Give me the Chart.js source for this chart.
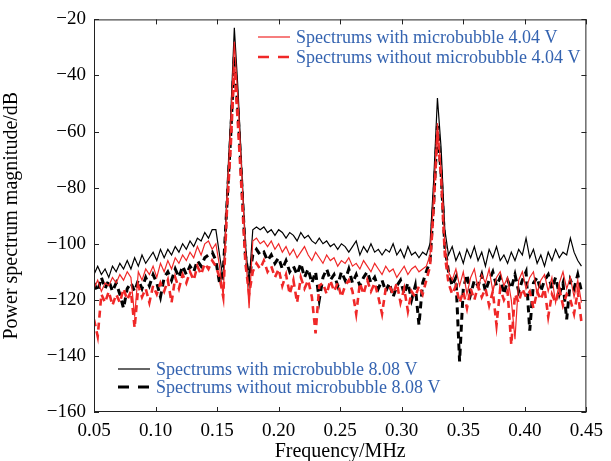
<!DOCTYPE html>
<html>
<head>
<meta charset="utf-8">
<script src="https://cdn.jsdelivr.net/npm/chart.js@4/dist/chart.umd.min.js"></script>
<style>
  html, body { margin: 0; padding: 0; background: #fff; }
  #wrap { width: 611px; height: 461px; }
</style>
</head>
<body>
<div id="wrap"><canvas id="spectrumChart" width="611" height="461"></canvas></div>
<script>
// frequency grid (MHz)
const freq = [
  0.050, 0.053, 0.056, 0.059, 0.062, 0.065, 0.068, 0.071, 0.074, 0.077,
  0.080, 0.083, 0.086, 0.089, 0.092, 0.095, 0.098, 0.101, 0.104, 0.107,
  0.110, 0.113, 0.116, 0.119, 0.122, 0.125, 0.128, 0.131, 0.134, 0.137,
  0.140, 0.143, 0.146, 0.149, 0.152, 0.155, 0.158, 0.161, 0.164, 0.167,
  0.170, 0.173, 0.176, 0.179, 0.182, 0.185, 0.188, 0.191, 0.194, 0.197,
  0.200, 0.203, 0.206, 0.209, 0.212, 0.215, 0.218, 0.221, 0.224, 0.227,
  0.230, 0.233, 0.236, 0.239, 0.242, 0.245, 0.248, 0.251, 0.254, 0.257,
  0.260, 0.263, 0.266, 0.269, 0.272, 0.275, 0.278, 0.281, 0.284, 0.287,
  0.290, 0.293, 0.296, 0.299, 0.302, 0.305, 0.308, 0.311, 0.314, 0.317,
  0.320, 0.323, 0.326, 0.329, 0.332, 0.335, 0.338, 0.341, 0.344, 0.347,
  0.350, 0.353, 0.356, 0.359, 0.362, 0.365, 0.368, 0.371, 0.374, 0.377,
  0.380, 0.383, 0.386, 0.389, 0.392, 0.395, 0.398, 0.401, 0.404, 0.407,
  0.410, 0.413, 0.416, 0.419, 0.422, 0.425, 0.428, 0.431, 0.434, 0.437,
  0.440, 0.443, 0.446
];

// with microbubble, 8.08 V (black solid)
const withMb808 = [
  -111, -108, -111, -109, -112, -108, -110, -107, -109, -106,
  -109, -105, -108, -104, -107, -105, -103, -106, -102, -105,
  -102, -104, -101, -103, -100, -102, -99, -101, -98, -99,
  -96, -98, -95, -95, -104, -113, -82, -55, -23, -45,
  -73, -100, -114, -95, -94, -95, -94, -96, -95, -97,
  -95, -96, -98, -96, -97, -99, -96, -98, -97, -99,
  -100, -98, -100, -99, -101, -100, -102, -100, -101, -103,
  -101, -99, -104, -101, -103, -100, -103, -102, -104, -102,
  -103, -100, -104, -102, -105, -101, -104, -103, -105, -103,
  -104, -100, -77, -48, -66, -95, -104, -101, -106, -103,
  -107, -102, -105, -101, -106, -103, -108, -102, -105, -101,
  -106, -104, -107, -103, -106, -102, -104, -98, -105, -102,
  -107, -104, -108, -103, -106, -102, -105, -103, -104, -98,
  -103, -106, -108
];

// without microbubble, 8.08 V (black dashed)
const withoutMb808 = [
  -114, -117, -112, -116, -113, -117, -114, -118, -123, -116,
  -114, -117, -113, -116, -112, -115, -111, -114, -119, -112,
  -110, -113, -109, -112, -108, -111, -108, -110, -106, -108,
  -105, -104, -103, -106, -114, -110, -86, -62, -33, -53,
  -78, -104, -113, -104, -102, -104, -103, -106, -104, -107,
  -105, -109, -106, -110, -108, -111, -107, -112, -109, -114,
  -110, -120, -112, -109, -113, -111, -115, -110, -113, -109,
  -114, -111, -115, -112, -110, -114, -112, -116, -113, -117,
  -114, -119, -115, -113, -118, -114, -120, -115, -129, -114,
  -110, -106, -85, -58, -75, -101, -110, -115, -112, -142,
  -116, -111, -118, -113, -115, -111, -117, -113, -110, -115,
  -112, -118, -113, -116, -111, -117, -113, -110, -131, -114,
  -112, -117, -113, -111, -116, -112, -118, -114, -127, -113,
  -116, -111, -117
];

// with microbubble, 4.04 V (red solid)
const withMb404 = [
  -116, -113, -117, -114, -115, -112, -114, -111, -113, -110,
  -112, -126, -110, -113, -109, -111, -108, -112, -107, -110,
  -106, -109, -105, -107, -104, -106, -103, -105, -101, -104,
  -100, -99, -102, -100, -108, -119, -84, -58, -28, -49,
  -75, -102, -123, -99, -98, -100, -99, -101, -99, -102,
  -100, -103, -101, -104, -102, -105, -103, -101, -104, -106,
  -103, -105, -107, -104, -106, -105, -108, -106, -107, -105,
  -108, -107, -109, -106, -108, -110, -107, -109, -111, -108,
  -110, -109, -112, -110, -108, -111, -109, -108, -110, -109,
  -108, -104, -83, -57, -74, -100, -110, -113, -109, -115,
  -110, -118, -112, -109, -116, -111, -114, -109, -117, -112,
  -110, -115, -112, -120, -134, -113, -110, -116, -112, -110,
  -118, -113, -111, -117, -112, -121, -114, -110, -116, -112,
  -119, -113, -121
];

// without microbubble, 4.04 V (red dashed)
const withoutMb404 = [
  -127, -133, -118, -121, -117, -122, -118, -121, -116, -120,
  -117, -130, -115, -119, -116, -121, -115, -118, -114, -117,
  -113, -121, -112, -116, -111, -114, -110, -113, -108, -111,
  -107, -109, -106, -108, -112, -119, -88, -66, -37, -58,
  -82, -107, -118, -110, -107, -109, -106, -110, -108, -112,
  -109, -115, -111, -118, -113, -121, -112, -116, -113, -119,
  -132, -115, -114, -118, -113, -117, -114, -119, -115, -113,
  -117, -125, -114, -118, -113, -117, -114, -119, -125, -116,
  -115, -118, -114, -121, -116, -124, -117, -119, -115, -118,
  -113, -108, -87, -60, -77, -104, -114, -118, -115, -121,
  -117, -123, -116, -120, -115, -119, -116, -122, -117, -129,
  -116, -120, -117, -136, -118, -121, -116, -119, -117, -123,
  -117, -120, -116, -126, -118, -121, -116, -122, -118, -120,
  -125, -117, -128
];

const xTicks = [0.05, 0.10, 0.15, 0.20, 0.25, 0.30, 0.35, 0.40, 0.45];
const yTicks = [-160, -140, -120, -100, -80, -60, -40, -20];

const legendTop = ["Spectrums with microbubble 4.04 V", "Spectrums without microbubble 4.04 V"];
const legendBottom = ["Spectrums with microbubble 8.08 V", "Spectrums without microbubble 8.08 V"];

const RED = "#f02828";
const TEXT_BLUE = "#3463b0";
const SERIF = '"Liberation Serif", "DejaVu Serif", serif';

function pts(values) {
  return values.map((v, i) => ({ x: freq[i], y: v }));
}

// frame, inward ticks and the two in-plot legends
const decorPlugin = {
  id: "decor",
  afterDatasetsDraw(chart) {
    const { ctx, chartArea: a, scales } = chart;
    ctx.save();
    ctx.strokeStyle = "#222";
    ctx.lineWidth = 1;
    ctx.setLineDash([]);
    ctx.strokeRect(a.left + 0.5, a.top + 0.5, a.right - a.left - 1, a.bottom - a.top - 1);

    const len = 5;
    ctx.beginPath();
    xTicks.forEach((v) => {
      const px = Math.round(scales.x.getPixelForValue(v)) + 0.5;
      ctx.moveTo(px, a.bottom);
      ctx.lineTo(px, a.bottom - len);
      ctx.moveTo(px, a.top);
      ctx.lineTo(px, a.top + len);
    });
    yTicks.forEach((v) => {
      const py = Math.round(scales.y.getPixelForValue(v)) + 0.5;
      ctx.moveTo(a.left, py);
      ctx.lineTo(a.left + len, py);
      ctx.moveTo(a.right, py);
      ctx.lineTo(a.right - len, py);
    });
    ctx.stroke();

    ctx.font = "18px " + SERIF;
    ctx.textBaseline = "middle";
    ctx.fillStyle = TEXT_BLUE;

    function entry(x, y, color, width, dash, label) {
      ctx.strokeStyle = color;
      ctx.lineWidth = width;
      ctx.setLineDash(dash);
      ctx.beginPath();
      ctx.moveTo(x, y);
      ctx.lineTo(x + 32, y);
      ctx.stroke();
      ctx.fillText(label, x + 38, y + 1);
    }

    entry(258, 37, RED, 1.2, [], legendTop[0]);
    entry(258, 57, RED, 2.6, [11, 9], legendTop[1]);
    entry(118, 369, "#000", 1.2, [], legendBottom[0]);
    entry(118, 387, "#000", 3, [11, 9], legendBottom[1]);
    ctx.restore();
  }
};

const ctx = document.getElementById("spectrumChart").getContext("2d");

new Chart(ctx, {
  type: "line",
  data: {
    datasets: [
      {
        label: legendTop[1],
        data: pts(withoutMb404),
        borderColor: RED,
        borderWidth: 2.6,
        borderDash: [7, 5],
        pointRadius: 0,
        tension: 0
      },
      {
        label: legendTop[0],
        data: pts(withMb404),
        borderColor: RED,
        borderWidth: 1.2,
        pointRadius: 0,
        tension: 0
      },
      {
        label: legendBottom[1],
        data: pts(withoutMb808),
        borderColor: "#000",
        borderWidth: 3,
        borderDash: [7, 5],
        pointRadius: 0,
        tension: 0
      },
      {
        label: legendBottom[0],
        data: pts(withMb808),
        borderColor: "#000",
        borderWidth: 1.2,
        pointRadius: 0,
        tension: 0
      }
    ]
  },
  options: {
    responsive: false,
    animation: false,
    devicePixelRatio: 1,
    layout: { padding: { top: 19, right: 22, left: 0, bottom: 0 } },
    plugins: {
      legend: { display: false },
      tooltip: { enabled: false }
    },
    scales: {
      x: {
        type: "linear",
        min: 0.05,
        max: 0.45,
        afterBuildTicks: (scale) => { scale.ticks = xTicks.map((v) => ({ value: v })); },
        afterFit: (scale) => { scale.height = 49; },
        grid: { display: false, drawTicks: false },
        border: { display: false },
        ticks: {
          color: "#000",
          padding: 8,
          maxRotation: 0,
          font: { family: SERIF, size: 19 },
          callback: (v) => Number(v).toFixed(2)
        },
        title: {
          display: true,
          text: "Frequency/MHz",
          color: "#000",
          font: { family: SERIF, size: 20 },
          padding: { top: 0, bottom: -3 }
        }
      },
      y: {
        min: -160,
        max: -20,
        afterBuildTicks: (scale) => { scale.ticks = yTicks.map((v) => ({ value: v })); },
        afterFit: (scale) => { scale.width = 94; },
        grid: { display: false, drawTicks: false },
        border: { display: false },
        ticks: {
          color: "#000",
          padding: 8,
          font: { family: SERIF, size: 19 },
          callback: (v) => "\u2212" + Math.abs(v)
        },
        title: {
          display: true,
          text: "Power spectrum magnitude/dB",
          color: "#000",
          font: { family: SERIF, size: 20 },
          padding: { top: 0, bottom: 4 }
        }
      }
    }
  },
  plugins: [decorPlugin]
});
</script>
</body>
</html>
